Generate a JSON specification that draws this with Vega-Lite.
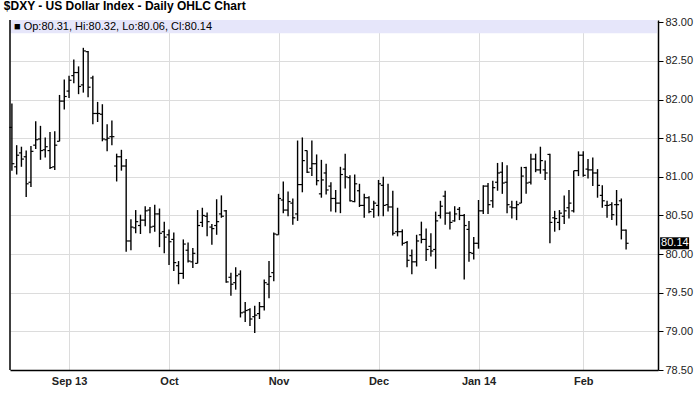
{
  "$schema": "https://vega.github.io/schema/vega-lite/v6.json",
  "autosize": {"type": "none"},
  "width": 648,
  "height": 350,
  "padding": {"left": 10, "top": 20, "right": 42, "bottom": 41},
  "background": "white",
  "title": {"text": "$DXY - US Dollar Index - Daily OHLC Chart", "anchor": "start", "font": "Liberation Sans", "fontSize": 12, "fontWeight": "bold", "color": "#000000", "dx": -5, "offset": 3},
  "config": {"view": {"stroke": null}, "font": "Liberation Sans", "axis": {"labelOverlap": false, "labelBound": false}},
  "data": {"values": [
{"i":1,"o":81.64,"h":81.95,"l":81.08,"c":81.17},
{"i":2,"o":81.13,"h":81.41,"l":81.03,"c":81.28},
{"i":3,"o":81.31,"h":81.39,"l":81.13,"c":81.23},
{"i":4,"o":81.26,"h":81.34,"l":80.74,"c":80.91},
{"i":5,"o":80.93,"h":81.40,"l":80.87,"c":81.33},
{"i":6,"o":81.41,"h":81.72,"l":81.36,"c":81.48},
{"i":7,"o":81.49,"h":81.66,"l":81.22,"c":81.34},
{"i":8,"o":81.35,"h":81.51,"l":81.25,"c":81.39},
{"i":9,"o":81.34,"h":81.58,"l":81.10,"c":81.12},
{"i":10,"o":81.13,"h":81.59,"l":81.09,"c":81.41},
{"i":11,"o":81.46,"h":82.06,"l":81.46,"c":81.98},
{"i":12,"o":81.98,"h":82.26,"l":81.87,"c":82.04},
{"i":13,"o":82.11,"h":82.31,"l":82.02,"c":82.25},
{"i":14,"o":82.31,"h":82.52,"l":82.21,"c":82.35},
{"i":15,"o":82.35,"h":82.43,"l":82.07,"c":82.17},
{"i":16,"o":82.19,"h":82.67,"l":82.09,"c":82.63},
{"i":17,"o":82.62,"h":82.63,"l":82.03,"c":82.16},
{"i":18,"o":82.28,"h":82.31,"l":81.68,"c":81.82},
{"i":19,"o":81.82,"h":81.97,"l":81.71,"c":81.82},
{"i":20,"o":81.81,"h":81.94,"l":81.46,"c":81.49},
{"i":21,"o":81.48,"h":81.68,"l":81.33,"c":81.50},
{"i":22,"o":81.52,"h":81.73,"l":81.41,"c":81.52},
{"i":23,"o":81.14,"h":81.30,"l":80.94,"c":81.26},
{"i":24,"o":81.26,"h":81.35,"l":81.08,"c":81.14},
{"i":25,"o":81.14,"h":81.23,"l":80.03,"c":80.17},
{"i":26,"o":80.17,"h":80.45,"l":80.05,"c":80.35},
{"i":27,"o":80.34,"h":80.57,"l":80.27,"c":80.42},
{"i":28,"o":80.37,"h":80.51,"l":80.26,"c":80.44},
{"i":29,"o":80.44,"h":80.62,"l":80.36,"c":80.56},
{"i":30,"o":80.57,"h":80.61,"l":80.27,"c":80.35},
{"i":31,"o":80.36,"h":80.64,"l":80.29,"c":80.52},
{"i":32,"o":80.52,"h":80.59,"l":80.09,"c":80.27},
{"i":33,"o":80.29,"h":80.42,"l":80.01,"c":80.22},
{"i":34,"o":80.25,"h":80.32,"l":79.86,"c":80.16},
{"i":35,"o":80.19,"h":80.28,"l":79.78,"c":79.89},
{"i":36,"o":79.85,"h":79.91,"l":79.61,"c":79.75},
{"i":37,"o":79.75,"h":80.19,"l":79.68,"c":80.13},
{"i":38,"o":80.05,"h":80.15,"l":79.89,"c":79.91},
{"i":39,"o":79.90,"h":80.08,"l":79.82,"c":80.01},
{"i":40,"o":79.88,"h":80.57,"l":79.88,"c":80.37},
{"i":41,"o":80.41,"h":80.60,"l":80.35,"c":80.50},
{"i":42,"o":80.49,"h":80.54,"l":80.23,"c":80.42},
{"i":43,"o":80.35,"h":80.39,"l":80.12,"c":80.33},
{"i":44,"o":80.37,"h":80.71,"l":80.25,"c":80.42},
{"i":45,"o":80.52,"h":80.76,"l":80.47,"c":80.49},
{"i":46,"o":80.56,"h":80.57,"l":79.63,"c":79.64},
{"i":47,"o":79.70,"h":79.76,"l":79.46,"c":79.61},
{"i":48,"o":79.63,"h":79.83,"l":79.54,"c":79.72},
{"i":49,"o":79.74,"h":79.79,"l":79.18,"c":79.24},
{"i":50,"o":79.25,"h":79.38,"l":79.12,"c":79.27},
{"i":51,"o":79.28,"h":79.30,"l":79.07,"c":79.16},
{"i":52,"o":79.19,"h":79.33,"l":78.98,"c":79.21},
{"i":53,"o":79.23,"h":79.38,"l":79.16,"c":79.32},
{"i":54,"o":79.32,"h":79.67,"l":79.27,"c":79.63},
{"i":55,"o":79.61,"h":79.91,"l":79.43,"c":79.71},
{"i":56,"o":79.76,"h":80.28,"l":79.65,"c":80.26},
{"i":57,"o":80.25,"h":80.78,"l":80.25,"c":80.72},
{"i":58,"o":80.70,"h":80.94,"l":80.53,"c":80.57},
{"i":59,"o":80.57,"h":80.81,"l":80.49,"c":80.68},
{"i":60,"o":80.66,"h":80.72,"l":80.38,"c":80.47},
{"i":61,"o":80.52,"h":81.47,"l":80.43,"c":80.90},
{"i":62,"o":80.90,"h":81.51,"l":80.80,"c":81.21},
{"i":63,"o":81.34,"h":81.34,"l":81.05,"c":81.06},
{"i":64,"o":81.11,"h":81.47,"l":81.01,"c":81.17},
{"i":65,"o":81.17,"h":81.29,"l":80.89,"c":80.95},
{"i":66,"o":80.78,"h":81.22,"l":80.73,"c":80.96},
{"i":67,"o":81.05,"h":81.17,"l":80.77,"c":80.83},
{"i":68,"o":80.88,"h":80.93,"l":80.55,"c":80.72},
{"i":69,"o":80.72,"h":80.83,"l":80.54,"c":80.66},
{"i":70,"o":80.66,"h":81.13,"l":80.53,"c":81.03},
{"i":71,"o":81.10,"h":81.30,"l":80.85,"c":81.00},
{"i":72,"o":80.99,"h":81.02,"l":80.68,"c":80.69},
{"i":73,"o":80.68,"h":81.03,"l":80.67,"c":80.91},
{"i":74,"o":80.82,"h":80.91,"l":80.61,"c":80.63},
{"i":75,"o":80.63,"h":80.78,"l":80.47,"c":80.73},
{"i":76,"o":80.73,"h":80.75,"l":80.53,"c":80.55},
{"i":77,"o":80.58,"h":80.69,"l":80.47,"c":80.66},
{"i":78,"o":80.63,"h":80.96,"l":80.49,"c":80.91},
{"i":79,"o":80.89,"h":81.00,"l":80.49,"c":80.63},
{"i":80,"o":80.64,"h":80.91,"l":80.55,"c":80.61},
{"i":81,"o":80.61,"h":80.82,"l":80.24,"c":80.27},
{"i":82,"o":80.29,"h":80.60,"l":80.23,"c":80.29},
{"i":83,"o":80.29,"h":80.32,"l":80.11,"c":80.14},
{"i":84,"o":80.15,"h":80.17,"l":79.83,"c":79.92},
{"i":85,"o":79.98,"h":80.06,"l":79.74,"c":79.90},
{"i":86,"o":79.90,"h":80.25,"l":79.84,"c":80.17},
{"i":87,"o":80.25,"h":80.42,"l":80.14,"c":80.19},
{"i":88,"o":80.19,"h":80.33,"l":79.91,"c":80.06},
{"i":89,"o":80.10,"h":80.27,"l":79.97,"c":80.04},
{"i":90,"o":80.06,"h":80.55,"l":79.81,"c":80.43},
{"i":91,"o":80.50,"h":80.69,"l":80.46,"c":80.62},
{"i":92,"o":80.75,"h":80.82,"l":80.38,"c":80.53},
{"i":93,"o":80.53,"h":80.55,"l":80.32,"c":80.41},
{"i":94,"o":80.43,"h":80.62,"l":80.42,"c":80.52},
{"i":95,"o":80.58,"h":80.61,"l":80.44,"c":80.50},
{"i":96,"o":80.50,"h":80.52,"l":79.67,"c":80.37},
{"i":97,"o":80.32,"h":80.43,"l":79.90,"c":80.02},
{"i":98,"o":80.01,"h":80.22,"l":79.93,"c":80.14},
{"i":99,"o":80.14,"h":80.70,"l":80.07,"c":80.56},
{"i":100,"o":80.56,"h":80.89,"l":80.52,"c":80.88},
{"i":101,"o":80.88,"h":80.92,"l":80.52,"c":80.64},
{"i":102,"o":80.69,"h":80.95,"l":80.60,"c":80.86},
{"i":103,"o":80.93,"h":81.18,"l":80.82,"c":81.05},
{"i":104,"o":81.06,"h":81.19,"l":80.78,"c":80.92},
{"i":105,"o":80.93,"h":81.15,"l":80.53,"c":80.64},
{"i":106,"o":80.61,"h":80.69,"l":80.46,"c":80.60},
{"i":107,"o":80.60,"h":80.69,"l":80.44,"c":80.64},
{"i":108,"o":80.66,"h":81.13,"l":80.66,"c":81.01},
{"i":109,"o":81.12,"h":81.13,"l":80.78,"c":80.92},
{"i":110,"o":80.93,"h":81.30,"l":80.90,"c":81.23},
{"i":111,"o":81.23,"h":81.30,"l":81.06,"c":81.09},
{"i":112,"o":81.09,"h":81.39,"l":81.04,"c":81.21},
{"i":113,"o":81.09,"h":81.21,"l":80.96,"c":81.05},
{"i":114,"o":81.29,"h":81.30,"l":80.14,"c":80.41},
{"i":115,"o":80.47,"h":80.56,"l":80.29,"c":80.46},
{"i":116,"o":80.41,"h":80.57,"l":80.31,"c":80.53},
{"i":117,"o":80.49,"h":80.76,"l":80.39,"c":80.56},
{"i":118,"o":80.60,"h":80.83,"l":80.46,"c":80.66},
{"i":119,"o":80.56,"h":81.08,"l":80.54,"c":81.08},
{"i":120,"o":81.08,"h":81.33,"l":81.01,"c":81.28},
{"i":121,"o":81.28,"h":81.33,"l":81.00,"c":81.02},
{"i":122,"o":81.10,"h":81.23,"l":80.98,"c":81.09},
{"i":123,"o":81.09,"h":81.25,"l":80.88,"c":81.05},
{"i":124,"o":81.05,"h":81.10,"l":80.73,"c":80.89},
{"i":125,"o":80.76,"h":80.89,"l":80.60,"c":80.69},
{"i":126,"o":80.63,"h":80.69,"l":80.47,"c":80.63},
{"i":127,"o":80.64,"h":80.67,"l":80.44,"c":80.51},
{"i":128,"o":80.64,"h":80.83,"l":80.37,"c":80.64},
{"i":129,"o":80.69,"h":80.72,"l":80.19,"c":80.31},
{"i":130,"o":80.31,"h":80.32,"l":80.06,"c":80.14}
  ]},
  "encoding": {
    "x": {"type": "quantitative", "scale": {"domain": [0.6, 136.7], "nice": false, "zero": false},
          "axis": {"orient": "bottom", "values": [13, 34, 57, 78, 99, 121], "title": null, "ticks": false, "domain": true, "domainColor": "#000000", "domainWidth": 1.5, "grid": true, "gridColor": "#dcdcdc", "labelExpr": "datum.value == 13 ? 'Sep 13' : datum.value == 34 ? 'Oct' : datum.value == 57 ? 'Nov' : datum.value == 78 ? 'Dec' : datum.value == 99 ? 'Jan 14' : 'Feb'", "labelFont": "Liberation Sans", "labelFontSize": 11, "labelFontWeight": "bold", "labelColor": "#222222", "labelPadding": 5, "labelFlush": false, "labelOverlap": false}},
    "y": {"type": "quantitative", "scale": {"domain": [78.5, 83.03], "nice": false, "zero": false},
          "axis": {"orient": "right", "tickCount": 10, "format": ".2f", "title": null, "tickSize": 5, "tickColor": "#000000", "domainColor": "#000000", "domainWidth": 1.5, "grid": true, "gridColor": "#dcdcdc", "labelFont": "Liberation Sans", "labelFontSize": 11, "labelColor": "#222222", "labelPadding": 2, "labelFlush": false, "labelOverlap": false}}
  },
  "layer": [
    {
      "mark": {"type": "rect", "color": "#e6e6fa"},
      "data": {"values": [{}]},
      "encoding": {
        "x": {"datum": 0.6},
        "x2": {"datum": 136.5},
        "y": {"datum": 83.03},
        "y2": {"datum": 82.86}
      }
    },
    {
      "mark": {"type": "rule", "color": "#000000", "strokeWidth": 1.5},
      "data": {"values": [{}]},
      "encoding": {
        "x": {"datum": 0.6},
        "y": {"datum": 78.5},
        "y2": {"datum": 83.03}
      }
    },
    {
      "mark": {"type": "text", "align": "left", "baseline": "middle", "fontSize": 11, "font": "Liberation Sans", "color": "#000000", "dx": 4, "text": "■ Op:80.31, Hi:80.32, Lo:80.06, Cl:80.14"},
      "data": {"values": [{}]},
      "encoding": {
        "x": {"datum": 0.6},
        "y": {"datum": 82.945}
      }
    },
    {
      "mark": {"type": "rule", "color": "#000000", "strokeWidth": 1.4},
      "encoding": {
        "x": {"field": "i"},
        "y": {"field": "l"},
        "y2": {"field": "h"}
      }
    },
    {
      "mark": {"type": "rule", "color": "#000000", "strokeWidth": 1.2, "xOffset": -2.5, "x2Offset": 0},
      "encoding": {
        "x": {"field": "i"},
        "x2": {"field": "i"},
        "y": {"field": "o"}
      }
    },
    {
      "mark": {"type": "rule", "color": "#000000", "strokeWidth": 1.2, "xOffset": 0, "x2Offset": 2.5},
      "encoding": {
        "x": {"field": "i"},
        "x2": {"field": "i"},
        "y": {"field": "c"}
      }
    },
    {
      "transform": [{"filter": "datum.i == 130"}],
      "mark": {"type": "rect", "color": "#000000", "xOffset": 34, "x2Offset": 63, "yOffset": -6, "y2Offset": 6},
      "encoding": {
        "x": {"field": "i"},
        "x2": {"field": "i"},
        "y": {"field": "c"},
        "y2": {"field": "c"}
      }
    },
    {
      "transform": [{"filter": "datum.i == 130"}],
      "mark": {"type": "text", "align": "left", "baseline": "middle", "fontSize": 11, "font": "Liberation Sans", "color": "#ffffff", "dx": 35},
      "encoding": {
        "x": {"field": "i"},
        "y": {"field": "c"},
        "text": {"field": "c", "type": "quantitative", "format": ".2f"}
      }
    }
  ]
}
